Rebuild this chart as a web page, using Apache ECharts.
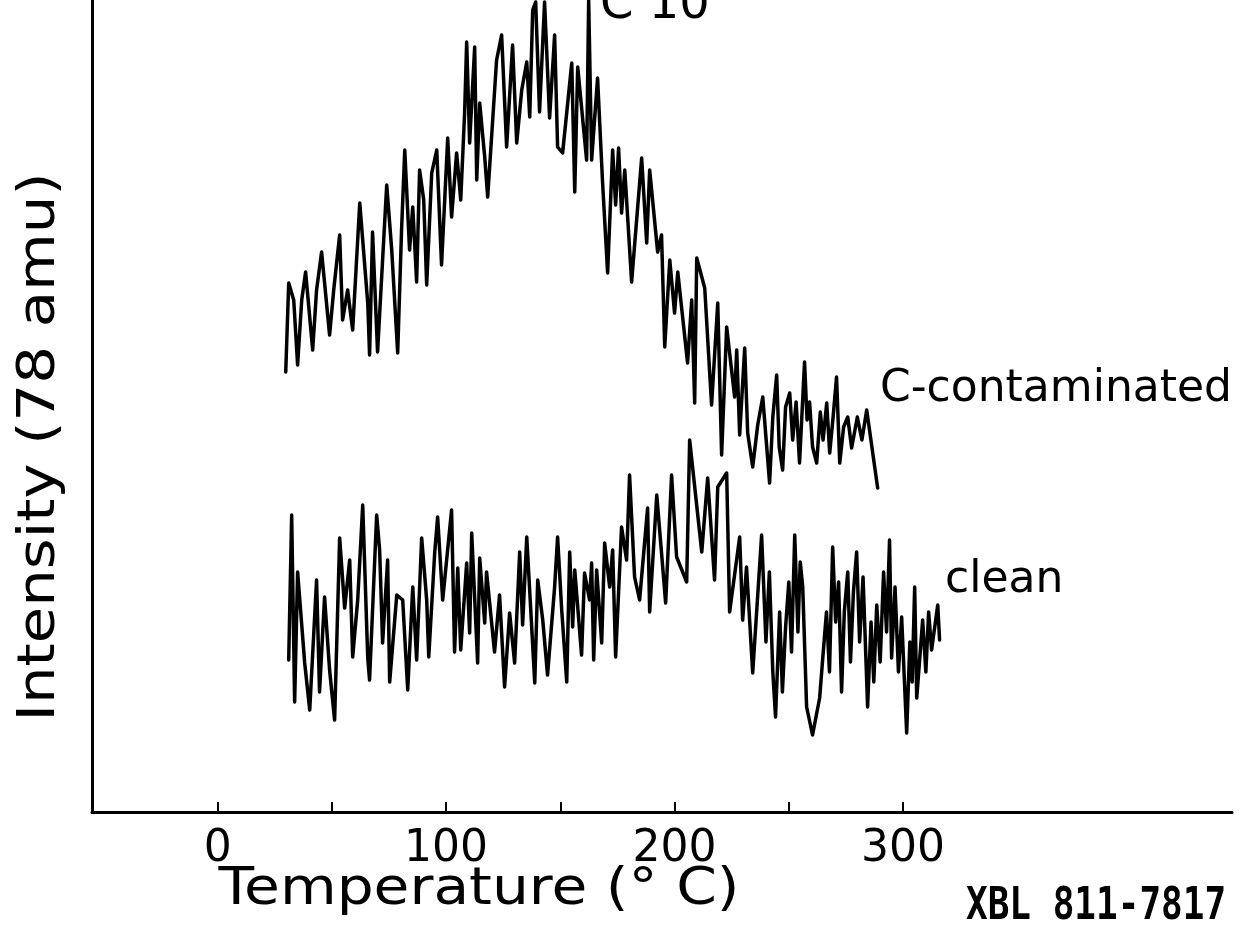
<!DOCTYPE html>
<html>
<head>
<meta charset="utf-8">
<script src="https://cdn.jsdelivr.net/npm/echarts@6/dist/echarts.min.js"></script>
<style>
html,body{margin:0;padding:0;background:#fff;}
#chart{width:1242px;height:941px;}
</style>
</head>
<body>
<div id="chart"></div>
<script>
// Temperature (°C) and intensity (arbitrary units, 78 amu)
var contaminatedTemp = [29.8,31.1,33.3,35.0,36.8,38.5,41.6,43.3,45.5,49.0,50.8,53.4,54.7,56.9,59.1,62.2,65.7,66.5,67.8,70.0,72.2,74.0,76.2,78.8,80.5,81.9,84.0,85.4,87.1,88.4,90.2,91.5,93.7,95.9,98.0,100.7,102.4,104.6,106.4,108.1,109.0,110.3,112.5,113.4,114.7,116.9,118.2,122.1,124.3,126.5,129.1,130.9,133.1,135.3,136.6,137.9,139.2,140.9,143.1,145.3,147.5,148.8,151.0,155.0,156.3,157.6,161.5,162.4,163.7,166.3,168.5,170.7,172.9,174.2,175.5,176.8,178.2,181.2,185.6,187.8,189.1,192.6,194.3,195.7,197.9,200.0,201.4,205.7,207.5,208.8,209.7,213.2,216.2,218.9,220.6,222.8,226.3,227.2,228.5,230.7,232.0,234.2,236.4,238.6,241.6,243.0,244.7,245.8,247.3,248.6,250.4,251.7,253.2,254.7,256.9,258.0,259.1,260.4,262.2,263.8,265.0,266.6,267.9,269.4,270.9,272.3,274.0,275.8,277.5,280.0,282.0,284.1,288.9];
var contaminatedIntensity = [440,529,512,447,512,540,462,522,560,477,522,577,492,522,482,609,509,457,580,460,552,627,562,459,582,662,562,605,530,642,612,527,639,662,547,674,595,659,612,699,770,669,765,632,709,655,615,752,777,665,767,669,722,750,695,802,810,700,810,694,777,665,659,749,620,745,652,812,652,734,629,539,662,607,664,599,642,530,654,569,642,560,577,465,552,499,540,449,512,409,554,524,407,509,357,485,415,462,377,464,379,345,387,415,329,395,437,365,342,405,419,372,410,349,450,392,410,365,349,400,372,409,359,395,435,349,385,395,364,395,372,402,324];

var cleanTemp = [31.1,32.4,33.7,35.0,38.1,40.3,43.3,44.6,46.8,49.0,51.2,53.4,55.6,57.8,59.1,61.3,63.5,65.7,66.5,69.6,70.9,72.2,74.4,75.3,78.4,81.0,83.2,85.4,87.1,89.3,91.5,92.4,95.0,96.3,98.5,102.4,103.7,105.1,106.4,109.0,110.3,111.2,113.8,114.7,116.9,117.7,121.2,123.4,125.6,127.8,130.0,132.2,133.5,135.3,138.8,140.1,142.3,144.4,147.5,148.8,150.6,152.8,154.1,155.4,156.3,159.3,160.6,162.8,163.7,164.6,165.9,168.1,169.4,171.6,172.9,174.2,176.8,179.0,180.3,182.5,184.7,188.2,189.1,192.2,196.1,198.7,200.9,205.3,206.6,211.9,214.5,217.5,218.9,222.8,224.1,228.5,229.8,231.5,234.2,238.1,240.0,241.5,243.0,244.2,246.0,247.2,248.6,250.0,251.2,252.6,254.0,255.0,256.1,257.8,260.4,263.5,264.8,266.5,267.8,269.2,270.5,271.8,273.1,274.3,275.8,277.0,278.3,279.7,281.0,282.5,284.5,286.0,287.2,288.5,290.0,291.5,292.8,294.1,295.0,296.5,298.0,299.4,301.6,303.0,304.0,305.1,306.0,308.6,310.0,311.2,312.5,315.2,316.0];
var cleanIntensity = [152,297,110,240,149,102,232,120,215,142,92,274,204,252,155,212,307,154,132,297,262,169,252,130,217,212,122,225,152,274,212,155,259,295,212,302,160,244,162,249,179,279,149,254,189,240,160,217,125,199,149,260,187,275,129,232,192,137,225,275,202,130,260,185,242,157,239,212,249,152,242,169,269,225,262,155,285,252,337,235,212,304,200,317,209,337,255,230,372,260,334,232,325,339,200,275,192,245,139,277,170,240,140,95,200,120,185,230,160,277,180,250,225,105,77,114,152,200,140,265,190,230,120,200,240,150,220,260,170,235,105,190,130,207,150,240,180,272,154,225,140,195,79,170,130,225,114,192,140,200,162,207,172];

var tempTicks = [0,50,100,150,200,250,300];
var tempLabels = [0,100,200,300];

function pairs(xs, ys){ var out=[]; for(var i=0;i<xs.length;i++){ out.push([xs[i], ys[i]]); } return out; }

var chart = echarts.init(document.getElementById('chart'), null, {renderer:'canvas'});
var font = '"DejaVu Sans", "Noto Sans", sans-serif';
var option = {
  backgroundColor:'#ffffff',
  animation:false,
  grid:{left:92, right:10, top:0, bottom:129, containLabel:false},
  xAxis:{
    type:'value', min:-55, max:444,
    axisLine:{show:true, onZero:false, lineStyle:{color:'#000', width:3}},
    axisTick:{show:true, inside:true, length:10, lineStyle:{color:'#000', width:2}, customValues:tempTicks},
    axisLabel:{show:true, customValues:tempLabels, margin:16, color:'#000', fontSize:44, fontFamily:font},
    splitLine:{show:false}
  },
  yAxis:{
    type:'value', min:0, max:812,
    axisLine:{show:true, onZero:false, lineStyle:{color:'#000', width:3}},
    axisTick:{show:false}, axisLabel:{show:false}, splitLine:{show:false}
  },
  series:[
    {name:'C-contaminated', type:'line', data:pairs(contaminatedTemp, contaminatedIntensity), showSymbol:false, symbol:'none', lineStyle:{color:'#000', width:3.5, join:'round', cap:'round'}},
    {name:'clean', type:'line', data:pairs(cleanTemp, cleanIntensity), showSymbol:false, symbol:'none', lineStyle:{color:'#000', width:3.5, join:'round', cap:'round'}}
  ],
  graphic:[
    {type:'text', x:479, y:890, scaleX:1.12, style:{text:'Temperature (° C)', font:'52px '+font, fill:'#000', textAlign:'center', textVerticalAlign:'middle', align:'center', verticalAlign:'middle'}},
    {type:'text', x:40, y:447, rotation:Math.PI/2, scaleX:1.14, style:{text:'Intensity (78 amu)', font:'52px '+font, fill:'#000', textAlign:'center', textVerticalAlign:'middle', align:'center', verticalAlign:'middle'}},
    {type:'text', x:880, y:390, style:{text:'C-contaminated', font:'44px '+font, fill:'#000', textVerticalAlign:'middle', verticalAlign:'middle'}},
    {type:'text', x:945, y:581, style:{text:'clean', font:'44px '+font, fill:'#000', textVerticalAlign:'middle', verticalAlign:'middle'}},
    {type:'text', x:966, y:930, scaleY:1.25, style:{text:'XBL 811-7817', font:'bold 36px "DejaVu Sans Mono", monospace', fill:'#000', textVerticalAlign:'bottom', verticalAlign:'bottom'}},
    {type:'text', x:600, y:30, style:{text:'C 10', font:'48px '+font, fill:'#000', textVerticalAlign:'bottom', verticalAlign:'bottom'}}
  ]
};
chart.setOption(option);
</script>
</body>
</html>
